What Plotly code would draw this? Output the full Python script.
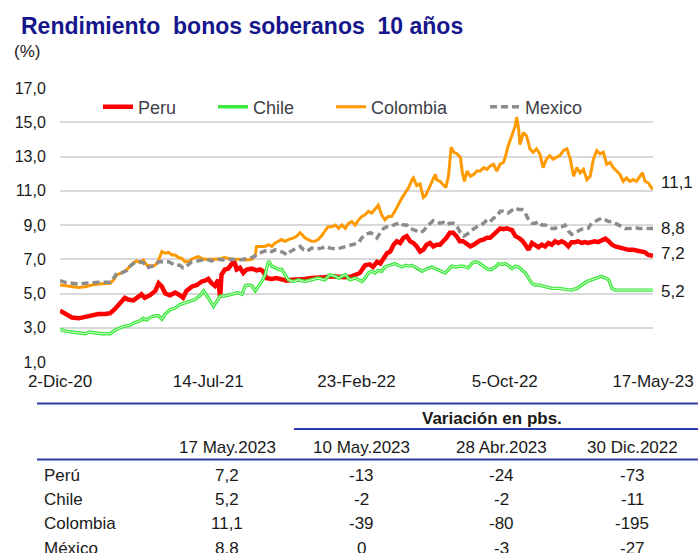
import pandas as pd
import plotly.graph_objects as go

# ---------------- data ----------------
start_date = "2020-12-02"
end_date = "2023-05-17"
tick_days = [0, 224, 448, 672, 896]
tick_labels = ["2-Dic-20", "14-Jul-21", "23-Feb-22", "5-Oct-22", "17-May-23"]

peru_days = [0, 8, 18, 28, 38, 48, 58, 68, 76, 83,
             88, 93, 98, 103, 111, 118, 123, 128, 136, 144,
             149, 154, 159, 166, 174, 181, 186, 191, 199, 207,
             214, 219, 224, 229, 234, 239, 242, 244, 249, 254,
             259, 263, 267, 272, 277, 282, 290, 297, 302, 307,
             312, 320, 327, 335, 343, 350, 360, 370, 380, 390,
             400, 411, 421, 431, 441, 453, 461, 468, 473, 479,
             484, 489, 494, 499, 504, 509, 514, 519, 524, 529,
             534, 539, 544, 549, 554, 559, 564, 569, 574, 579,
             584, 589, 594, 599, 604, 609, 615, 620, 625, 630,
             635, 640, 645, 650, 655, 660, 665, 670, 675, 683,
             688, 693, 698, 703, 708, 713, 718, 723, 728, 733,
             738, 743, 748, 753, 758, 763, 768, 773, 778, 783,
             788, 793, 798, 803, 808, 813, 819, 824, 829, 834,
             839, 844, 851, 859, 866, 874, 879, 884, 889, 894, 896]
peru_vals = [4.0, 3.8, 3.6, 3.55, 3.65, 3.7, 3.8, 3.8, 3.85, 4.1,
             4.35, 4.6, 4.75, 4.65, 4.6, 4.8, 4.95, 4.75, 4.9, 5.15,
             5.6, 5.4, 5.0, 4.9, 5.05, 4.9, 4.75, 5.15, 5.4, 5.5,
             5.7, 5.75, 5.85, 5.6, 5.45, 5.8, 4.75, 6.1, 6.4, 6.45,
             6.7, 6.9, 6.4, 6.5, 6.2, 6.4, 6.45, 6.35, 6.4, 6.3,
             5.9, 5.85, 5.9, 5.8, 5.75, 5.8, 5.8, 5.85, 5.9, 5.9,
             5.95, 6.0, 5.95, 5.95, 6.0, 6.2, 6.65, 6.7, 6.55, 6.85,
             6.75, 7.05, 7.35, 7.45, 7.85, 8.05, 7.95, 8.25, 8.35, 8.05,
             7.95, 7.75, 7.45, 7.55, 7.85, 7.95, 7.75, 7.85, 7.85, 8.05,
             8.25, 8.55, 8.55, 8.35, 8.05, 8.05, 7.85, 7.75, 7.85, 8.0,
             8.1, 8.15, 8.25, 8.25, 8.45, 8.6, 8.8, 8.75, 8.8, 8.7,
             8.35, 8.25, 8.1, 7.85, 7.55, 7.95, 7.85, 7.7, 7.85, 7.75,
             7.95, 7.85, 8.05, 7.95, 8.05, 7.95, 7.75, 8.0, 8.0, 8.05,
             7.95, 8.0, 7.95, 8.0, 8.05, 8.0, 8.1, 8.2, 8.05, 7.85,
             7.75, 7.7, 7.6, 7.55, 7.55, 7.5, 7.45, 7.4, 7.25, 7.2, 7.2]

chile_days = [0, 8, 18, 28, 38, 45, 53, 63, 76, 83,
              91, 98, 106, 113, 121, 126, 131, 136, 144, 149,
              154, 159, 166, 174, 181, 189, 196, 204, 212, 217,
              224, 232, 242, 249, 259, 269, 275, 280, 285, 290,
              295, 300, 305, 310, 315, 320, 325, 330, 335, 340,
              345, 353, 360, 370, 380, 390, 400, 408, 416, 421,
              431, 438, 446, 451, 456, 461, 466, 471, 476, 481,
              486, 491, 496, 501, 506, 511, 517, 522, 527, 532,
              537, 542, 547, 552, 557, 562, 567, 572, 577, 582,
              587, 592, 597, 602, 607, 612, 617, 622, 627, 632,
              637, 642, 647, 652, 658, 663, 668, 672, 677, 683,
              688, 693, 698, 703, 708, 713, 718, 723, 733, 743,
              753, 763, 773, 781, 788, 796, 803, 811, 818, 824,
              829, 834, 839, 846, 859, 874, 896]
chile_vals = [2.9, 2.8, 2.75, 2.7, 2.65, 2.75, 2.7, 2.65, 2.65, 2.85,
              3.0, 3.1, 3.15, 3.3, 3.4, 3.55, 3.45, 3.6, 3.7, 3.7,
              3.5, 3.8, 4.05, 4.15, 4.35, 4.45, 4.55, 4.65, 4.9, 5.15,
              4.75, 4.25, 4.85, 4.85, 4.95, 5.05, 4.95, 5.45, 5.5, 5.45,
              5.15, 5.45, 5.7, 6.1, 6.9, 6.6, 6.5, 6.4, 6.4, 6.1,
              5.8, 5.7, 5.8, 5.7, 5.8, 5.9, 5.8, 6.1, 6.0, 5.9,
              6.1, 5.8, 5.9, 5.8, 5.7, 5.9, 6.2, 6.3, 6.2, 6.35,
              6.3, 6.55, 6.6, 6.65, 6.75, 6.65, 6.55, 6.65, 6.6, 6.65,
              6.55, 6.45, 6.3, 6.4, 6.45, 6.55, 6.45, 6.35, 6.3, 6.2,
              6.4, 6.6, 6.55, 6.6, 6.6, 6.55, 6.5, 6.75, 6.85, 6.8,
              6.65, 6.55, 6.4, 6.4, 6.55, 6.75, 6.7, 6.75, 6.65, 6.45,
              6.6, 6.55, 6.35, 6.2, 5.9, 5.6, 5.5, 5.5, 5.4, 5.3,
              5.3, 5.25, 5.2, 5.3, 5.5, 5.7, 5.8, 5.9, 6.0, 5.9,
              5.8, 5.3, 5.2, 5.2, 5.2, 5.2, 5.2]

colombia_days = [0, 8, 18, 28, 38, 48, 58, 68, 76, 81,
                 86, 93, 101, 106, 111, 116, 121, 126, 131, 139,
                 144, 149, 154, 159, 164, 169, 174, 179, 184, 189,
                 194, 199, 204, 209, 214, 219, 229, 239, 249, 259,
                 270, 280, 290, 295, 297, 302, 310, 315, 320, 325,
                 330, 335, 340, 345, 353, 358, 363, 365, 370, 375,
                 380, 385, 390, 395, 400, 405, 411, 416, 421, 426,
                 431, 436, 441, 446, 451, 456, 461, 466, 471, 476,
                 481, 486, 491, 496, 501, 506, 511, 517, 522, 527,
                 532, 534, 539, 544, 549, 552, 557, 562, 567, 569,
                 574, 579, 583, 587, 591, 595, 600, 605, 608, 611,
                 615, 620, 625, 630, 635, 640, 645, 650, 655, 660,
                 665, 670, 672, 677, 683, 688, 690, 693, 695, 700,
                 705, 710, 715, 720, 725, 730, 735, 740, 745, 750,
                 755, 761, 766, 771, 776, 781, 786, 791, 796, 801,
                 806, 811, 816, 821, 826, 831, 836, 841, 846, 851,
                 856, 861, 866, 871, 876, 880, 884, 889, 894, 896]
colombia_vals = [5.5, 5.45, 5.4, 5.35, 5.4, 5.5, 5.55, 5.6, 5.6, 5.8,
                 6.1, 6.2, 6.4, 6.6, 6.8, 6.9, 6.8, 6.95, 6.65, 6.6,
                 6.65, 6.95, 7.45, 7.35, 7.4, 7.25, 7.25, 7.1, 7.05, 6.85,
                 6.85, 7.0, 7.1, 7.15, 7.05, 7.0, 7.0, 7.0, 7.1, 7.0,
                 7.0, 6.95, 7.0, 7.25, 7.75, 7.75, 7.75, 7.85, 7.75, 7.95,
                 8.05, 8.15, 8.05, 8.15, 8.25, 8.35, 8.55, 8.45, 8.25, 8.15,
                 8.05, 8.05, 8.15, 8.35, 8.65, 8.9, 8.9, 9.0, 8.8, 9.0,
                 8.8, 9.1, 9.2, 9.0, 9.3, 9.5, 9.6, 9.8, 9.7, 9.9,
                 10.15, 9.6, 9.3, 9.5, 9.5, 9.8, 10.2, 10.6, 10.9, 11.2,
                 11.65, 11.75, 11.3, 11.4, 10.6, 10.7, 11.1, 11.5, 11.95, 11.65,
                 11.55, 11.35, 11.2, 11.85, 13.55, 13.25, 13.15, 12.95, 12.05, 11.55,
                 12.15, 11.85, 11.95, 12.15, 12.15, 12.35, 12.25, 12.45, 12.55, 12.15,
                 12.55, 12.65, 12.85, 13.6, 14.3, 14.8, 15.3, 14.6, 13.7, 14.4,
                 14.2, 13.45, 13.25, 13.45, 13.15, 12.35, 12.85, 13.05, 12.85, 12.95,
                 13.05, 13.35, 13.45, 12.85, 11.85, 12.35, 12.05, 12.25, 11.65, 11.85,
                 12.85, 13.35, 13.15, 13.25, 12.55, 12.65, 12.35, 12.15, 11.95, 11.55,
                 11.75, 11.55, 11.65, 11.55, 11.85, 12.05, 11.55, 11.45, 11.15, 11.1]

mexico_days = [0, 8, 18, 28, 38, 48, 58, 68, 76, 81,
               86, 93, 101, 106, 113, 121, 126, 131, 139, 144,
               149, 154, 159, 164, 169, 174, 181, 186, 191, 199,
               207, 214, 222, 229, 239, 249, 259, 270, 280, 290,
               295, 300, 307, 315, 320, 325, 330, 337, 343, 348,
               355, 363, 368, 373, 380, 388, 395, 403, 408, 416,
               423, 431, 438, 446, 451, 456, 461, 469, 474, 479,
               484, 489, 494, 499, 504, 509, 514, 519, 524, 529,
               534, 539, 544, 549, 554, 559, 564, 569, 574, 579,
               584, 589, 594, 600, 605, 610, 615, 620, 625, 630,
               635, 640, 645, 650, 655, 660, 665, 670, 677, 683,
               688, 693, 698, 703, 708, 713, 718, 723, 728, 733,
               738, 743, 748, 753, 758, 763, 768, 773, 778, 783,
               788, 793, 798, 803, 808, 813, 818, 824, 829, 834,
               839, 844, 849, 854, 861, 869, 876, 884, 896]
mexico_vals = [5.75, 5.65, 5.6, 5.55, 5.6, 5.65, 5.65, 5.65, 5.65, 5.9,
               6.2, 6.2, 6.35, 6.6, 6.8, 6.85, 6.8, 6.5, 6.6, 6.65,
               6.85, 6.85, 6.9, 6.85, 6.75, 6.65, 6.65, 6.5, 6.6, 6.85,
               6.9, 6.95, 7.0, 6.9, 7.0, 6.95, 7.0, 6.95, 7.0, 7.1,
               7.2, 7.35, 7.45, 7.55, 7.45, 7.55, 7.5, 7.4, 7.25, 7.45,
               7.6, 7.75, 7.55, 7.45, 7.65, 7.6, 7.65, 7.75, 7.65, 7.6,
               7.65, 7.75, 7.85, 7.9, 7.95, 8.25, 8.45, 8.55, 8.45, 8.25,
               8.55, 8.8, 8.9, 8.9, 9.0, 9.1, 9.15, 9.0, 9.0, 8.8,
               8.75, 8.65, 8.55, 8.65, 8.9, 9.1, 9.25, 9.2, 9.1, 9.15,
               9.0, 9.1, 9.1, 8.9, 8.55, 8.35, 8.45, 8.65, 8.8, 8.9,
               9.0, 9.1, 9.3, 9.2, 9.4, 9.5, 9.8, 9.8, 9.7, 9.85,
               10.0, 9.9, 9.9, 9.7, 9.3, 9.1, 9.1, 9.2, 9.0, 9.0,
               8.9, 8.8, 8.8, 8.9, 8.9, 9.0, 8.65, 8.45, 8.55, 8.65,
               8.75, 8.75, 8.8, 9.1, 9.2, 9.35, 9.4, 9.3, 9.2, 9.2,
               9.1, 9.0, 8.9, 8.8, 8.8, 8.85, 8.8, 8.8, 8.8]

# table
table_countries = ["Perú", "Chile", "Colombia", "México"]
table_headers = ["17 May.2023", "10 May.2023", "28 Abr.2023", "30 Dic.2022"]
level_17may = [7.2, 5.2, 11.1, 8.8]
chg_10may = [-13, -2, -39, 0]
chg_28abr = [-24, -2, -80, -3]
chg_30dic = [-73, -11, -195, -27]

# ---------------- helpers ----------------
W, H = 698, 553
ML, MR, MT, MB = 60, 45, 88, 191
PW, PH = W - ML - MR, H - MT - MB
FONT = "Liberation Sans, Arial, sans-serif"


def px(x):
    return (x - ML) / PW


def py(y):
    return (H - MB - y) / PH


t0 = pd.Timestamp(start_date)


def to_dates(days):
    return [t0 + pd.Timedelta(days=int(d)) for d in days]


def fmt(v):
    return f"{v:.1f}".replace(".", ",")


fig = go.Figure()

fig.add_trace(go.Scatter(x=to_dates(peru_days), y=peru_vals, name="Peru", mode="lines",
                         line=dict(color="#ff0000", width=4.5), legend="legend"))
fig.add_trace(go.Scatter(x=to_dates(chile_days), y=chile_vals, name="Chile", mode="lines",
                         line=dict(color="#3ce83c", width=3.4), legend="legend2"))
fig.add_trace(go.Scatter(x=to_dates(chile_days), y=chile_vals, name="Chile", mode="lines",
                         line=dict(color="#d8ffd8", width=1.0), showlegend=False, hoverinfo="skip"))
fig.add_trace(go.Scatter(x=to_dates(colombia_days), y=colombia_vals, name="Colombia", mode="lines",
                         line=dict(color="#ff9900", width=3), legend="legend3"))
fig.add_trace(go.Scatter(x=to_dates(mexico_days), y=mexico_vals, name="Mexico", mode="lines",
                         line=dict(color="#8c8c8c", width=3.5, dash="7px,4px"), legend="legend4"))

annotations = []
# end-of-line labels
end_points = [
    (colombia_days[-1], level_17may[2], 7),
    (mexico_days[-1], level_17may[3], 0),
    (peru_days[-1], level_17may[0], 2),
    (chile_days[-1], level_17may[1], -1),
]
for d, v, ys in end_points:
    annotations.append(dict(x=t0 + pd.Timedelta(days=d), y=v, xref="x", yref="y",
                            text=fmt(v), showarrow=False, xanchor="left", yanchor="middle",
                            xshift=6, yshift=ys, font=dict(family=FONT, size=17, color="#1a1a1a")))

# unit label
annotations.append(dict(x=px(12), y=py(52), xref="paper", yref="paper", text="(%)",
                        showarrow=False, xanchor="left", yanchor="middle",
                        font=dict(family=FONT, size=17, color="#1a1a1a")))

# table
tfont = dict(family=FONT, size=17, color="#1a1a1a")
annotations.append(dict(x=px(492), y=py(418), xref="paper", yref="paper",
                        text="<b>Variación en pbs.</b>", showarrow=False,
                        xanchor="center", yanchor="middle", font=tfont))
col_x = [227, 361, 501, 632]
for cx, htxt in zip(col_x, table_headers):
    annotations.append(dict(x=px(cx), y=py(447.5), xref="paper", yref="paper", text=htxt,
                            showarrow=False, xanchor="center", yanchor="middle", font=tfont))
row_y = [475, 499.5, 523.5, 548]
for i, ry in enumerate(row_y):
    annotations.append(dict(x=px(42), y=py(ry), xref="paper", yref="paper",
                            text=table_countries[i], showarrow=False,
                            xanchor="left", yanchor="middle", font=tfont))
    cells = [fmt(level_17may[i]), str(chg_10may[i]), str(chg_28abr[i]), str(chg_30dic[i])]
    for cx, ctext in zip(col_x, cells):
        annotations.append(dict(x=px(cx), y=py(ry), xref="paper", yref="paper", text=ctext,
                                showarrow=False, xanchor="center", yanchor="middle", font=tfont))

line_col = "#2b3aa6"
shapes = [
    dict(type="line", xref="paper", yref="paper", x0=px(37), x1=px(698), y0=py(403.5), y1=py(403.5),
         line=dict(color=line_col, width=2)),
    dict(type="line", xref="paper", yref="paper", x0=px(294), x1=px(698), y0=py(429), y1=py(429),
         line=dict(color=line_col, width=2)),
    dict(type="line", xref="paper", yref="paper", x0=px(37), x1=px(698), y0=py(459.5), y1=py(459.5),
         line=dict(color=line_col, width=2)),
]

leg_common = dict(orientation="h", yanchor="middle", xanchor="left", bgcolor="rgba(0,0,0,0)",
                  borderwidth=0, font=dict(family=FONT, size=18, color="#404048"))
leg_y = py(107)

fig.update_layout(
    width=W, height=H, autosize=False,
    margin=dict(l=ML, r=MR, t=MT, b=MB, pad=0, autoexpand=False),
    paper_bgcolor="white", plot_bgcolor="white",
    separators=",.",
    font=dict(family=FONT, size=16, color="#1a1a1a"),
    title=dict(text="<b>Rendimiento  bonos soberanos  10 años</b>", x=21 / W, xanchor="left",
               xref="container", y=1 - 26 / H, yanchor="middle", yref="container",
               font=dict(family=FONT, size=23, color="#16168c")),
    legend=dict(x=px(98), y=leg_y, **leg_common),
    legend2=dict(x=px(213), y=leg_y, **leg_common),
    legend3=dict(x=px(331), y=leg_y, **leg_common),
    legend4=dict(x=px(485), y=leg_y, **leg_common),
    annotations=annotations,
    shapes=shapes,
    xaxis=dict(type="date", range=[t0, t0 + pd.Timedelta(days=tick_days[-1])],
               tickvals=[t0 + pd.Timedelta(days=d) for d in tick_days], ticktext=tick_labels,
               showgrid=False, zeroline=False, showline=False, automargin=False,
               ticklabeloverflow="allow",
               ticks="outside", ticklen=4, tickcolor="rgba(0,0,0,0)",
               tickfont=dict(family=FONT, size=17, color="#1a1a1a")),
    yaxis=dict(range=[1, 17], tick0=1, dtick=2, tickformat=".1f", automargin=False,
               showgrid=True, gridcolor="#d9d9d9", gridwidth=1.5, zeroline=False, showline=False,
               ticks="outside", ticklen=10, tickcolor="rgba(0,0,0,0)",
               tickfont=dict(family=FONT, size=16, color="#1a1a1a")),
)

fig.write_html("out.html", config={"displayModeBar": False},
               post_script="document.body.style.margin='0';document.body.style.overflow='hidden';")
